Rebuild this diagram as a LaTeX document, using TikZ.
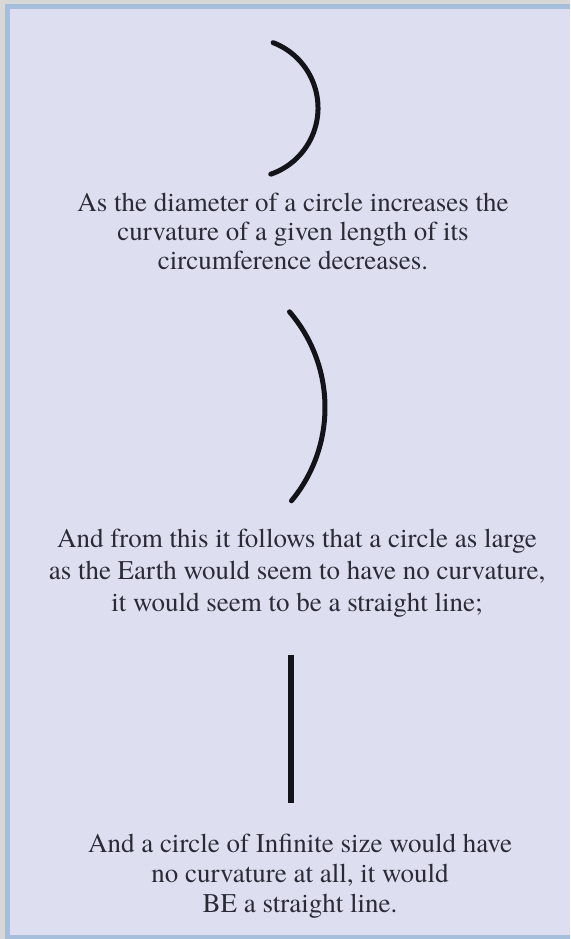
\documentclass[tikz,border=0pt]{standalone}
\usepackage{fontspec}
\IfFontExistsTF{TeX Gyre Termes}{\newfontfamily\captionfont{TeX Gyre Termes}}{\newfontfamily\captionfont{Liberation Serif}}
\usetikzlibrary{calc}
\definecolor{outergray}{HTML}{D8D8D8}
\definecolor{frameblue}{HTML}{A4BEDC}
\definecolor{paper}{HTML}{DDDFF0}
\definecolor{ink}{HTML}{2B2B38}
\definecolor{stroke}{HTML}{141418}
\begin{document}
\begin{tikzpicture}[x=1pt,y=1pt,
  txt/.style={anchor=base,inner sep=0pt,text=ink,font=\captionfont\fontsize{27}{30}\selectfont},
  curve/.style={draw=stroke,line width=5pt,line cap=round}]
\useasboundingbox (0,0) rectangle (570,939);
\fill[outergray] (0,0) rectangle (570,939);
\fill[frameblue] (5,0) rectangle (570,935);
\fill[paper] (10,4) rectangle (570,930);
% arcs (y measured upward: Y = 939 - ypx)
\coordinate (c1) at (248,831);
\draw[curve] ($(c1)+(69:70)$) arc[start angle=69,end angle=-71,radius=70];
\coordinate (c2) at (178.3,531.5);
\draw[curve] ($(c2)+(40.7:146.7)$) arc[start angle=40.7,end angle=-39.5,radius=146.7];
\coordinate (l1) at (291,284);
\coordinate (l2) at (291,136);
\draw[curve,line width=5.5pt,line cap=butt] (l1) -- (l2);
% texts
\node[txt] (a1) at (293,727) {As the diameter of a circle increases the};
\node[txt] (a2) at (293,698) {curvature of a given length of its};
\node[txt] (a3) at (293,669) {circumference decreases.};
\node[txt] (b1) at (297,391) {And from this it follows that a circle as large};
\node[txt] (b2) at (297,359) {as the Earth would seem to have no curvature,};
\node[txt] (b3) at (297,327) {it would seem to be a straight line;};
\node[txt] (d1) at (300,86) {And a circle of Infinite size would have};
\node[txt] (d2) at (300,56) {no curvature at all, it would};
\node[txt] (d3) at (300,26) {BE a straight line.};
\end{tikzpicture}
\end{document}
